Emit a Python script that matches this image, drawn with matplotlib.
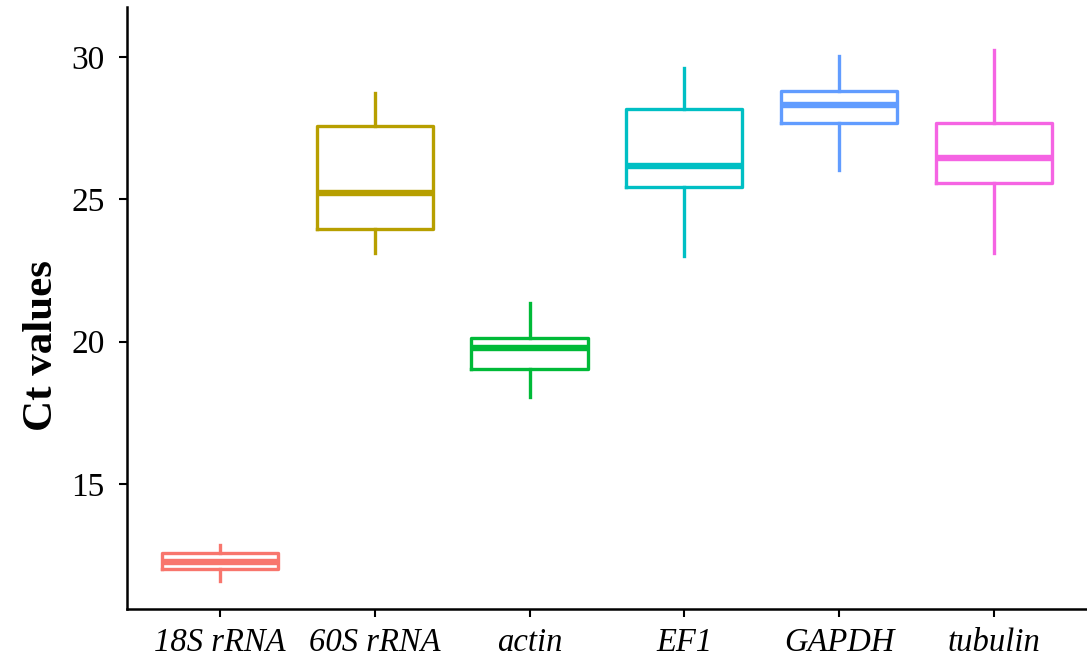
import matplotlib
matplotlib.use("Agg")
import matplotlib.pyplot as plt

genes = ["18S rRNA", "60S rRNA", "actin", "EF1", "GAPDH", "tubulin"]
colors = ["#F8766D", "#B79F00", "#00BA38", "#00BFC4", "#619CFF", "#F564E3"]

# box summaries
whisker_low = [11.57, 23.12, 18.06, 23.01, 26.03, 23.12]
q1 = [11.99, 23.96, 19.04, 25.43, 27.68, 25.57]
medians = [12.25, 25.22, 19.78, 26.17, 28.32, 26.45]
q3 = [12.58, 27.58, 20.13, 28.17, 28.82, 27.68]
whisker_high = [12.85, 28.74, 21.36, 29.61, 30.03, 30.25]

plt.rcParams["font.family"] = ["Liberation Serif", "DejaVu Serif"]


def main():
    fig = plt.figure(figsize=(10.87, 6.64), dpi=100)
    ax = fig.add_axes([0.1168, 0.0828, 0.8832, 0.9067])

    for i, gene in enumerate(genes):
        stats = [{
            "whislo": whisker_low[i],
            "q1": q1[i],
            "med": medians[i],
            "q3": q3[i],
            "whishi": whisker_high[i],
            "label": gene,
        }]
        c = colors[i]
        ax.bxp(
            stats,
            positions=[i + 1],
            widths=0.75,
            showfliers=False,
            showcaps=False,
            boxprops=dict(color=c, linewidth=2.4),
            whiskerprops=dict(color=c, linewidth=2.4),
            medianprops=dict(color=c, linewidth=4.6, solid_capstyle="butt"),
        )

    ax.set_xlim(0.4, 6.6)
    ax.set_ylim(10.6, 31.76)
    ax.set_xticks(range(1, len(genes) + 1))
    ax.set_xticklabels(genes, fontstyle="italic", fontsize=23.5)
    ax.set_yticks([15, 20, 25, 30])
    ax.tick_params(axis="y", labelsize=24, length=6, width=1.5, pad=10)
    ax.tick_params(axis="x", length=6, width=1.5, pad=7)

    for side in ["top", "right"]:
        ax.spines[side].set_visible(False)
    for side in ["left", "bottom"]:
        ax.spines[side].set_linewidth(1.8)

    ax.set_ylabel("Ct values", fontsize=31, fontweight="bold")
    ax.yaxis.set_label_coords(-0.069, 0.437)

    fig.savefig("out.png", dpi=100)


if __name__ == "__main__":
    main()
